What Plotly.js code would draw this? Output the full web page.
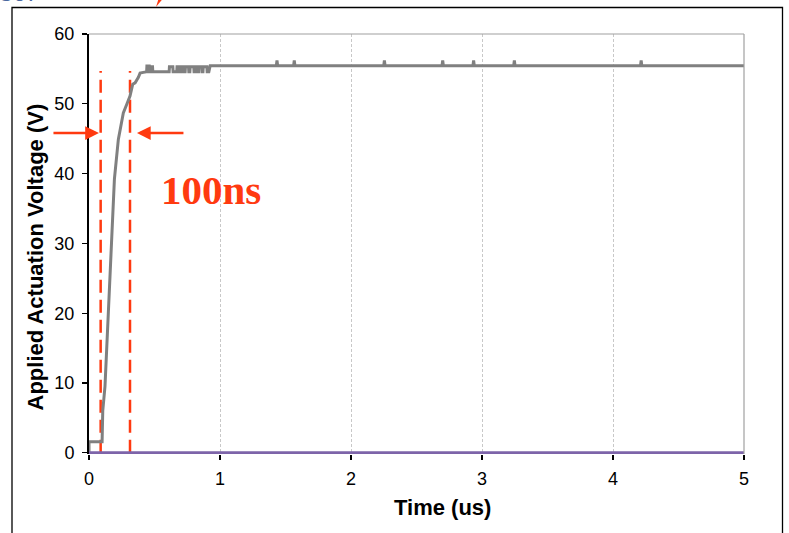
<!DOCTYPE html>
<html>
<head>
<meta charset="utf-8">
<script src="https://cdn.plot.ly/plotly-3.0.1.min.js"></script>
<style>html,body{margin:0;padding:0;background:#fff;}#chart{width:789px;height:533px;}</style>
</head>
<body>
<div id="chart"></div>
<script>
// Applied actuation voltage (gray trace)
const timeUs = [0, 0, 0.1, 0.1, 0.105, 0.122, 0.148, 0.168, 0.194, 0.224, 0.262, 0.29, 0.313, 0.334, 0.352, 0.377, 0.39, 0.415,
  0.44, 0.442, 0.46, 0.462, 0.47, 0.472, 0.485, 0.487, 0.612, 0.614, 0.64, 0.642, 0.67, 0.672, 0.69, 0.692, 0.70, 0.702, 0.72, 0.722,
  0.734, 0.736, 0.76, 0.762, 0.77, 0.772, 0.80, 0.802, 0.81, 0.812, 0.823, 0.825, 0.836, 0.838, 0.86, 0.862, 0.87, 0.872, 0.90, 0.902, 0.915, 0.925,
  1.43, 1.435, 1.44, 1.562, 1.567, 1.572, 2.25, 2.255, 2.26, 2.695, 2.70, 2.705, 2.931, 2.936, 2.941, 3.242, 3.247, 3.252, 4.21, 4.215, 4.22, 5.0];
const voltage = [0, 1.6, 1.6, 4.7, 6.0, 9.5, 20, 30, 39.2, 44.9, 48.7, 50.0, 51.1, 52.8, 53.0, 53.8, 54.4, 54.5,
  54.6, 55.4, 55.4, 54.6, 54.6, 55.3, 55.3, 54.6, 54.6, 55.3, 55.3, 54.6, 54.6, 55.3, 55.3, 54.6, 54.6, 55.3, 55.3, 54.6,
  54.6, 55.3, 55.3, 54.6, 54.6, 55.3, 55.3, 54.6, 54.6, 55.3, 55.3, 54.6, 54.6, 55.3, 55.3, 54.6, 54.6, 55.3, 55.3, 54.6, 54.6, 55.45,
  55.45, 56.2, 55.45, 55.45, 56.2, 55.45, 55.45, 56.2, 55.45, 55.45, 56.2, 55.45, 55.45, 56.2, 55.45, 55.45, 56.2, 55.45, 55.45, 56.2, 55.45, 55.45];
// Baseline series (purple)
const baseTime = [0, 5];
const baseVoltage = [0, 0];
// Rise-time markers (red dashed)
const markerTimes = [0.089, 0.313];
const markerTop = 54.7;
// Axis ticks
const xTicks = [0, 1, 2, 3, 4, 5];
const yTicks = [0, 10, 20, 30, 40, 50, 60];

const red = '#ff3a10';
const traces = [];
markerTimes.forEach(t => traces.push({
  x: [t, t], y: [0, markerTop], mode: 'lines', hoverinfo: 'skip',
  line: {color: red, width: 2.5, dash: '13px,7px'}
}));
traces.push({x: timeUs, y: voltage, mode: 'lines', line: {color: '#808080', width: 3}});
traces.push({x: baseTime, y: baseVoltage, mode: 'lines', line: {color: '#7d64a9', width: 3}});

// plot area pixels: x 89..744, y 34..454
const px = p => (p - 89) / 655;
const py = p => (454 - p) / 420;
const fontSans = 'Liberation Sans, Arial, sans-serif';

const layout = {
  width: 789, height: 533,
  margin: {l: 89, r: 45, t: 34, b: 79, pad: 0},
  paper_bgcolor: '#ffffff', plot_bgcolor: '#ffffff',
  showlegend: false,
  font: {family: fontSans, color: '#000', size: 18},
  xaxis: {
    range: [0, 5], tickvals: xTicks, ticktext: xTicks.map(String),
    showline: false,
    ticks: 'outside', ticklen: 5, tickwidth: 1.2, tickcolor: '#000',
    showgrid: true, gridcolor: '#c8c8c8', griddash: '3px,2px', gridwidth: 1,
    zeroline: false, tickfont: {size: 18, family: fontSans}, ticklabelstandoff: 3, fixedrange: true
  },
  yaxis: {
    range: [-0.17, 60], tickvals: yTicks, ticktext: yTicks.map(String),
    showline: true, linecolor: '#000', linewidth: 2,
    ticks: 'outside', ticklen: 5, tickwidth: 1.2, tickcolor: '#000',
    showgrid: false, zeroline: false, tickfont: {size: 18, family: fontSans},
    ticklabelstandoff: 4, fixedrange: true
  },
  shapes: [
    // outer chart frame
    {type: 'rect', xref: 'paper', yref: 'paper', x0: px(12), x1: px(782.5), y0: py(545), y1: py(7.5),
     line: {color: '#000', width: 1.3}, fillcolor: 'rgba(0,0,0,0)', layer: 'below'},
    // plot area top and right borders
    {type: 'line', xref: 'paper', yref: 'paper', x0: 0, x1: 1, y0: 1, y1: 1, line: {color: '#a0a0a0', width: 1.2}},
    {type: 'line', xref: 'paper', yref: 'paper', x0: 1, x1: 1, y0: 0, y1: 1, line: {color: '#a0a0a0', width: 1.2}},
    // red fragment at the top edge
    {type: 'path', xref: 'paper', yref: 'paper',
     path: `M ${px(156)} ${py(7)} L ${px(165)} ${py(-4)} L ${px(160)} ${py(-6)} Z`,
     fillcolor: red, line: {color: red, width: 0}}
  ],
  annotations: [
    {text: '<b>100ns</b>', xref: 'x', yref: 'y', x: 0.93, y: 37.7, showarrow: false,
     xanchor: 'center', yanchor: 'middle',
     font: {family: 'Liberation Serif, Times New Roman, serif', size: 41, color: red}},
    {text: '', xref: 'x', yref: 'y', x: 0.076, y: 45.8, ax: -47, ay: 0, showarrow: true,
     arrowhead: 2, arrowsize: 1.1, arrowwidth: 2.5, arrowcolor: red, standoff: 0},
    {text: '', xref: 'x', yref: 'y', x: 0.366, y: 45.8, ax: 48, ay: 0, showarrow: true,
     arrowhead: 2, arrowsize: 1.1, arrowwidth: 2.5, arrowcolor: red, standoff: 0},
    {text: '<b>Applied Actuation Voltage (V)</b>', xref: 'paper', yref: 'paper', x: px(35), y: py(257.5),
     xanchor: 'center', yanchor: 'middle',
     textangle: -90, showarrow: false, font: {size: 22, family: fontSans, color: '#000'}},
    {text: '<b>Time (us)</b>', xref: 'paper', yref: 'paper', x: px(442.5), y: py(507),
     xanchor: 'center', yanchor: 'middle',
     showarrow: false, font: {size: 22, family: fontSans, color: '#000'}},
    {text: '<i>567</i>', xref: 'paper', yref: 'paper', x: px(-2), y: py(8), xanchor: 'left', yanchor: 'bottom',
     showarrow: false, font: {size: 24, family: fontSans, color: '#4a68a0'}}
  ]
};

Plotly.newPlot('chart', traces, layout, {staticPlot: true, displayModeBar: false});
</script>
</body>
</html>
